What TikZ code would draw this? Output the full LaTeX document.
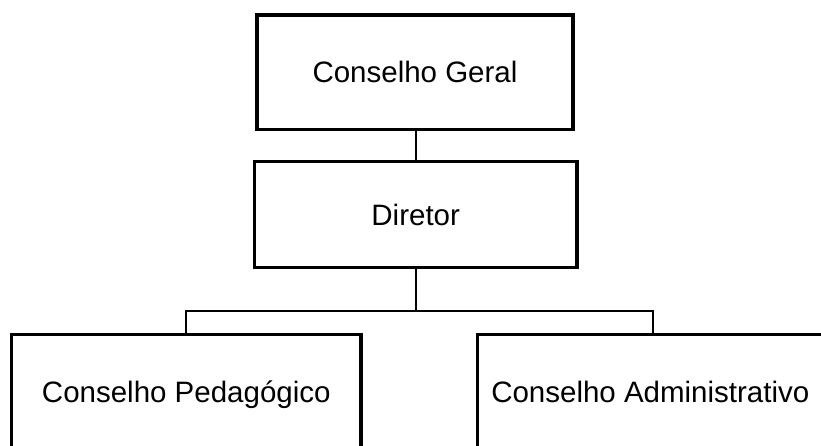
\documentclass[tikz,border=0pt]{standalone}
\usepackage{fontspec}
\setmainfont{Liberation Sans}
\begin{document}
\begin{tikzpicture}[x=1pt,y=-1pt,
  orgbox/.style={draw=black, line width=3.6pt, fill=white, rectangle, inner sep=0pt,
    font=\fontsize{29.5}{34}\selectfont, text height=21.1pt, text depth=0pt, anchor=center},
  link/.style={draw=black, line width=2pt}]
\clip (0,0) rectangle (821,446);
\fill[white] (0,0) rectangle (821,446);
\node[orgbox, minimum width=316pt, minimum height=114.5pt] (geral) at (415,72.3) {Conselho Geral};
\node[orgbox, minimum width=322.5pt, minimum height=105.6pt] (dir) at (415.7,214.5) {Diretor};
\node[orgbox, minimum width=349.3pt, minimum height=114.4pt] (ped) at (186.3,391.5) {Conselho Pedag\'ogico};
\node[orgbox, minimum width=346pt, minimum height=114.4pt] (adm) at (650.3,391.5) {Conselho Administrativo};
\coordinate (bus) at (415.7,310.5);
\draw[link] (geral.south -| dir.north) -- (dir.north);
\draw[link] (dir.south) -- (bus);
\draw[link] (186,334.3) |- (bus);
\draw[link] (652.7,334.3) |- (bus);
\end{tikzpicture}
\end{document}
